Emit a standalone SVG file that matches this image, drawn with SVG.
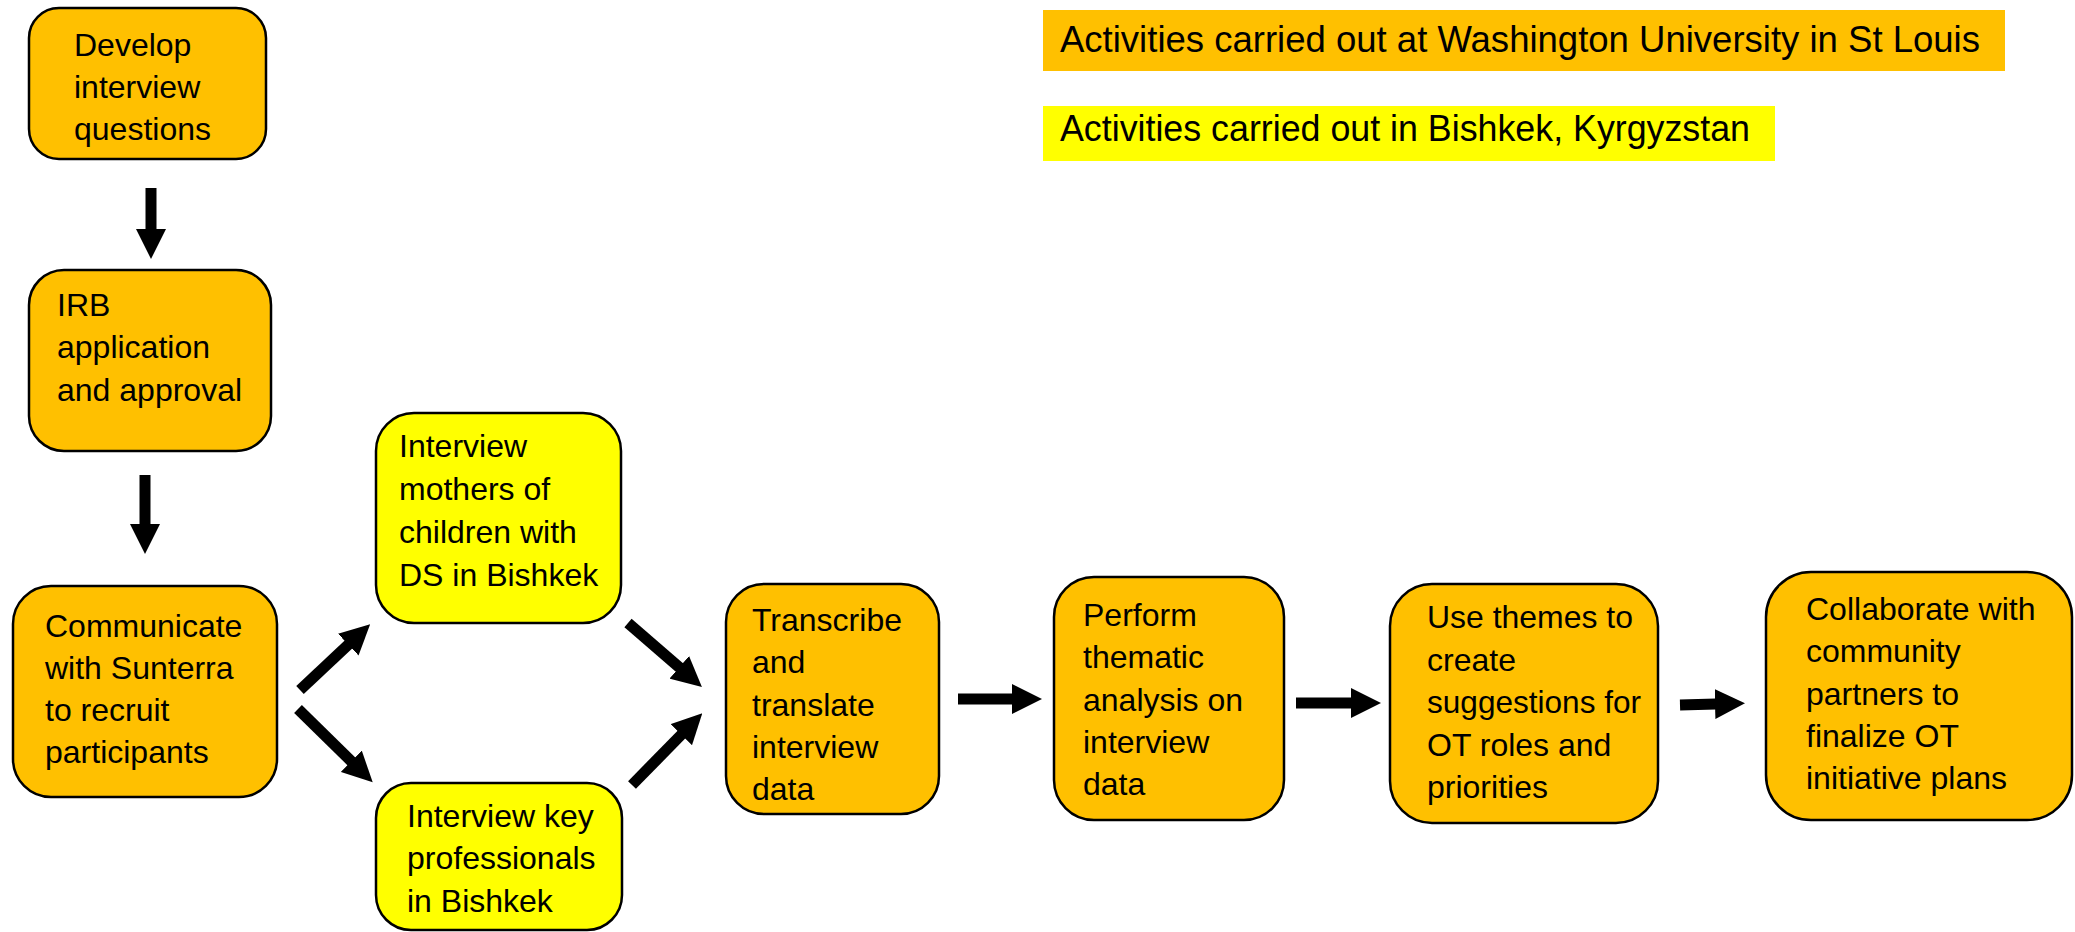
<svg xmlns="http://www.w3.org/2000/svg" width="2075" height="932" viewBox="0 0 2075 932">
<style>
.o{fill:#FFC000;stroke:#000;stroke-width:2.5}
.y{fill:#FFFF00;stroke:#000;stroke-width:2.5}
text{font-family:"Liberation Sans",Arial,sans-serif;font-size:32px;fill:#000}
.lg{font-size:36px}
.c{stroke:#000;stroke-width:11;fill:none;marker-end:url(#ah)}
</style>
<defs>
<marker id="ah" markerUnits="userSpaceOnUse" viewBox="0 -15 30 30" refX="1" refY="0" markerWidth="30" markerHeight="30" orient="auto">
<path d="M0,-15 L30,0 L0,15 Z" fill="#000"/>
</marker>
</defs>
<rect width="2075" height="932" fill="#fff"/>
<g id="legend-wustl">
<rect x="1043" y="10" width="962" height="61" fill="#FFC000"/>
<text class="lg" x="1060" y="52" textLength="920" lengthAdjust="spacingAndGlyphs">Activities carried out at Washington University in St Louis</text>
</g>
<g id="legend-bishkek">
<rect x="1043" y="106" width="732" height="55" fill="#FFFF00"/>
<text class="lg" x="1060" y="141" textLength="690" lengthAdjust="spacingAndGlyphs">Activities carried out in Bishkek, Kyrgyzstan</text>
</g>
<g id="connectors">
<line class="c" x1="151" y1="188" x2="151" y2="230"/>
<line class="c" x1="145" y1="475" x2="145" y2="525"/>
<line class="c" x1="300" y1="690" x2="349" y2="644"/>
<line class="c" x1="298" y1="709" x2="352" y2="762"/>
<line class="c" x1="628" y1="623" x2="680" y2="668"/>
<line class="c" x1="632" y1="785" x2="682" y2="734"/>
<line class="c" x1="958" y1="699" x2="1013" y2="699"/>
<line class="c" x1="1296" y1="703" x2="1352" y2="703"/>
<line class="c" x1="1680" y1="705" x2="1716" y2="704"/>
</g>
<g id="n1">
<rect class="o" x="29" y="8" width="237" height="151" rx="30"/>
<text x="74" y="56">Develop</text>
<text x="74" y="98">interview</text>
<text x="74" y="140">questions</text>
</g>
<g id="n2">
<rect class="o" x="29" y="270" width="242" height="181" rx="35"/>
<text x="57" y="316">IRB</text>
<text x="57" y="358">application</text>
<text x="57" y="401">and approval</text>
</g>
<g id="n3">
<rect class="o" x="13" y="586" width="264" height="211" rx="38"/>
<text x="45" y="637">Communicate</text>
<text x="45" y="679">with Sunterra</text>
<text x="45" y="721">to recruit</text>
<text x="45" y="763">participants</text>
</g>
<g id="n4">
<rect class="y" x="376" y="413" width="245" height="210" rx="38"/>
<text x="399" y="457">Interview</text>
<text x="399" y="500">mothers of</text>
<text x="399" y="543">children with</text>
<text x="399" y="586">DS in Bishkek</text>
</g>
<g id="n5">
<rect class="y" x="376" y="783" width="246" height="147" rx="35"/>
<text x="407" y="827">Interview key</text>
<text x="407" y="869">professionals</text>
<text x="407" y="912">in Bishkek</text>
</g>
<g id="n6">
<rect class="o" x="726" y="584" width="213" height="230" rx="38"/>
<text x="752" y="631">Transcribe</text>
<text x="752" y="673">and</text>
<text x="752" y="716">translate</text>
<text x="752" y="758">interview</text>
<text x="752" y="800">data</text>
</g>
<g id="n7">
<rect class="o" x="1054" y="577" width="230" height="243" rx="40"/>
<text x="1083" y="626">Perform</text>
<text x="1083" y="668">thematic</text>
<text x="1083" y="711">analysis on</text>
<text x="1083" y="753">interview</text>
<text x="1083" y="795">data</text>
</g>
<g id="n8">
<rect class="o" x="1390" y="584" width="268" height="239" rx="42"/>
<text x="1427" y="628" textLength="206" lengthAdjust="spacingAndGlyphs">Use themes to</text>
<text x="1427" y="671">create</text>
<text x="1427" y="713" textLength="214" lengthAdjust="spacingAndGlyphs">suggestions for</text>
<text x="1427" y="756">OT roles and</text>
<text x="1427" y="798">priorities</text>
</g>
<g id="n9">
<rect class="o" x="1766" y="572" width="306" height="248" rx="45"/>
<text x="1806" y="620">Collaborate with</text>
<text x="1806" y="662">community</text>
<text x="1806" y="705">partners to</text>
<text x="1806" y="747">finalize OT</text>
<text x="1806" y="789">initiative plans</text>
</g>
</svg>
